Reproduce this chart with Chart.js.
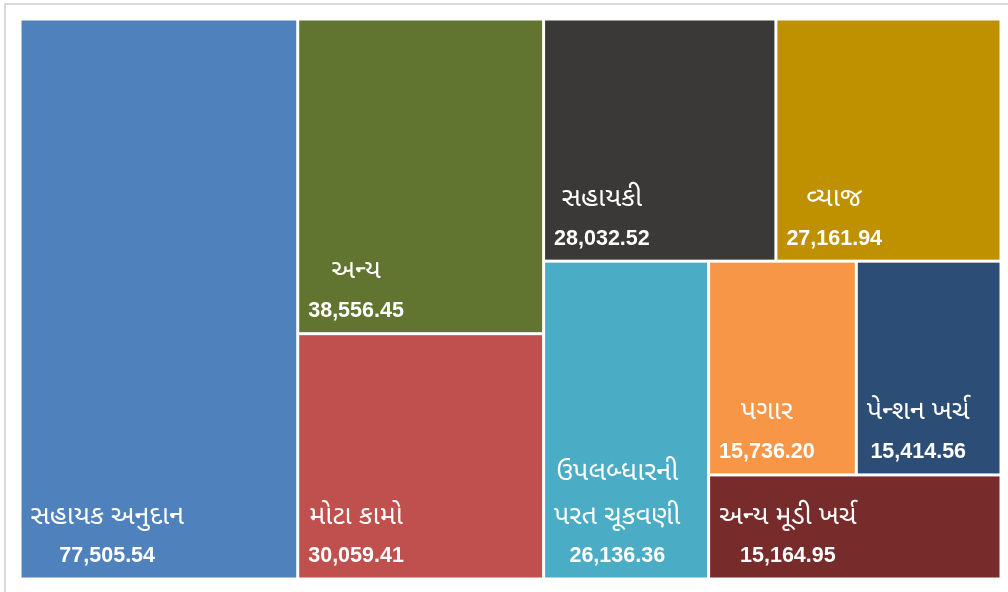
<!DOCTYPE html>
<html>
<head>
<meta charset="utf-8">
<script src="https://cdn.jsdelivr.net/npm/chart.js@4/dist/chart.umd.min.js"></script>
<style>
  html, body { margin: 0; padding: 0; background: #ffffff; }
  #wrap { position: relative; width: 1008px; height: 592px; }
</style>
</head>
<body>
<div id="wrap"><canvas id="c" width="1008" height="592"></canvas></div>
<script>
// ---- data ----
const categories = ['સહાયક અનુદાન', 'અન્ય', 'મોટા કામો', 'સહાયકી', 'વ્યાજ', 'ઉપલબ્ધારની પરત ચૂકવણી', 'પગાર', 'પેન્શન ખર્ચ', 'અન્ય મૂડી ખર્ચ'];
const values = [77505.54, 38556.45, 30059.41, 28032.52, 27161.94, 26136.36, 15736.20, 15414.56, 15164.95];
const valueLabels = ['77,505.54', '38,556.45', '30,059.41', '28,032.52', '27,161.94', '26,136.36', '15,736.20', '15,414.56', '15,164.95'];
const colors = ['#4F81BD', '#617530', '#C0504D', '#3A3938', '#BF9000', '#4BACC6', '#F79646', '#2C4D75', '#772B2A'];

// squarified treemap layout in normalized (0..1) scale units, using pixel aspect for decisions
function squarify(vals, W, H) {
  const total = vals.reduce((a, b) => a + b, 0);
  const areas = vals.map(v => v / total * W * H);
  const rects = [];
  let x = 0, y = 0, w = W, h = H;
  let i = 0;
  function worst(row, side) {
    const s = row.reduce((a, b) => a + b, 0);
    let m = 0;
    for (const r of row) {
      const len = s / side;
      const other = r / len;
      m = Math.max(m, len / other, other / len);
    }
    return m;
  }
  while (i < areas.length) {
    const side = Math.min(w, h);
    let row = [areas[i]];
    let j = i + 1;
    while (j < areas.length) {
      const next = row.concat([areas[j]]);
      if (worst(next, side) <= worst(row, side)) { row = next; j++; } else break;
    }
    const s = row.reduce((a, b) => a + b, 0);
    if (w >= h) {
      const cw = s / h;
      let cy = y;
      for (const r of row) { const ch = r / cw; rects.push({ x0: x, y0: cy, x1: x + cw, y1: cy + ch }); cy += ch; }
      x += cw; w -= cw;
    } else {
      const rh = s / w;
      let cx = x;
      for (const r of row) { const rw = r / rh; rects.push({ x0: cx, y0: y, x1: cx + rw, y1: y + rh }); cx += rw; }
      y += rh; h -= rh;
    }
    i = j;
  }
  return rects.map(r => ({ x0: r.x0 / W, y0: r.y0 / H, x1: r.x1 / W, y1: r.y1 / H }));
}

function wrapWords(ctx, text, maxW) {
  const words = text.split(' ');
  const lines = [];
  let cur = '';
  for (const wd of words) {
    const t = cur ? cur + ' ' + wd : wd;
    if (ctx.measureText(t).width > maxW && cur) { lines.push(cur); cur = wd; } else cur = t;
  }
  if (cur) lines.push(cur);
  return lines;
}

const NAME_FONT = '27px "Noto Sans Gujarati", "Noto Sans", "Lohit Gujarati", sans-serif';
const VALUE_FONT = 'bold 21.5px "Liberation Sans", Arial, sans-serif';

const treemapPlugin = {
  id: 'treemapCells',
  beforeDraw(chart) {
    const ctx = chart.ctx;
    ctx.save();
    ctx.strokeStyle = '#D9D9D9';
    ctx.lineWidth = 2;
    ctx.strokeRect(5, 4, 1100, 700);
    ctx.restore();
  },
  afterDatasetsDraw(chart) {
    const ctx = chart.ctx;
    const xs = chart.scales.x, ys = chart.scales.y;
    const ca = chart.chartArea;
    const rects = squarify(values, ca.right - ca.left, ca.bottom - ca.top);
    const inset = 1.5;
    ctx.save();
    rects.forEach((r, k) => {
      const L = xs.getPixelForValue(r.x0) + inset;
      const R = xs.getPixelForValue(r.x1) - inset;
      const T = ys.getPixelForValue(r.y0) + inset;
      const B = ys.getPixelForValue(r.y1) - inset;
      ctx.fillStyle = colors[k];
      ctx.fillRect(L, T, R - L, B - T);

      ctx.fillStyle = '#FFFFFF';
      ctx.textBaseline = 'middle';
      ctx.textAlign = 'center';
      ctx.font = NAME_FONT;
      const lines = wrapWords(ctx, categories[k], R - L - 16);
      const nameWidths = lines.map(l => ctx.measureText(l).width);
      ctx.font = VALUE_FONT;
      const vW = ctx.measureText(valueLabels[k]).width;
      const blockW = Math.max(vW, ...nameWidths);
      const cx = L + 9 + blockW / 2;
      ctx.fillText(valueLabels[k], cx, B - 21);
      ctx.font = NAME_FONT;
      for (let n = 0; n < lines.length; n++) {
        const yy = B - 59 - (lines.length - 1 - n) * 44;
        ctx.fillText(lines[n], cx, yy);
      }
    });
    ctx.restore();
  }
};

new Chart(document.getElementById('c'), {
  type: 'scatter',
  data: { labels: categories, datasets: [{ data: [], pointRadius: 0 }] },
  options: {
    responsive: false,
    animation: false,
    layout: { padding: { left: 20, top: 19, right: 7, bottom: 13 } },
    plugins: { legend: { display: false }, tooltip: { enabled: false } },
    scales: {
      x: { type: 'linear', min: 0, max: 1, display: false },
      y: { type: 'linear', min: 0, max: 1, reverse: true, display: false }
    }
  },
  plugins: [treemapPlugin]
});
</script>
</body>
</html>
